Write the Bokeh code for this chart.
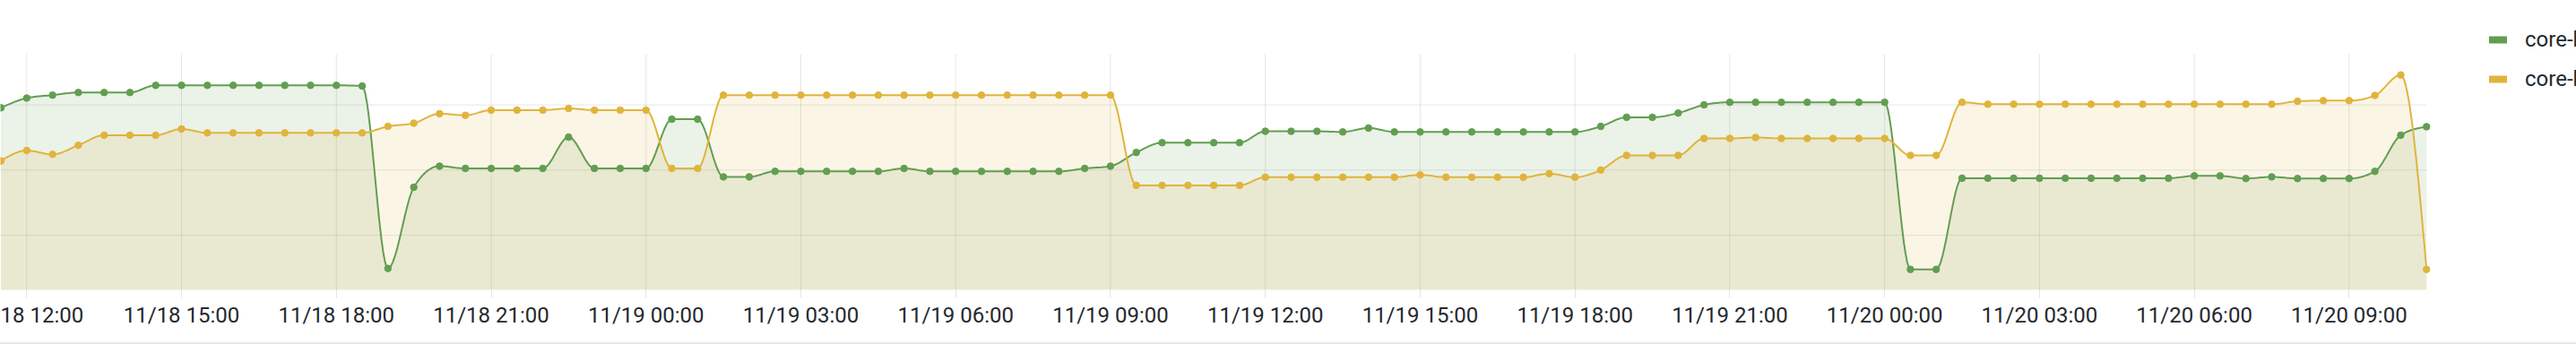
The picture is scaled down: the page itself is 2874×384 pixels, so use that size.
import numpy as np
import pandas as pd
from bokeh.plotting import figure
from bokeh.layouts import column
from bokeh.models import (Range1d, FixedTicker, DatetimeTickFormatter,
                          Legend, LegendItem, Div)
from bokeh.embed import file_html
from bokeh.resources import INLINE

# ---------------- data ----------------
series_names = ["core-host-1", "core-host-2"]
series_colors = ["#629E51", "#E0B43C"]
start_time = "2024-11-18 11:30"
step_minutes = 30

green_values = [
    59.1, 62.1, 63.0, 63.8, 63.8, 63.8, 66.0, 66.0, 66.0, 66.0,
    66.0, 66.0, 66.0, 66.0, 65.8, 9.8, 34.7, 41.2, 40.5, 40.5,
    40.5, 40.5, 50.1, 40.5, 40.5, 40.5, 55.6, 55.6, 37.9, 37.9,
    39.6, 39.6, 39.6, 39.6, 39.6, 40.5, 39.6, 39.6, 39.6, 39.6,
    39.6, 39.6, 40.5, 41.2, 45.4, 48.4, 48.4, 48.4, 48.4, 51.9,
    51.9, 51.9, 51.7, 52.9, 51.7, 51.7, 51.7, 51.7, 51.7, 51.7,
    51.7, 51.7, 53.4, 56.2, 56.2, 57.5, 60.0, 60.8, 60.8, 60.8,
    60.8, 60.8, 60.8, 60.8, 9.5, 9.5, 37.5, 37.5, 37.5, 37.5,
    37.5, 37.5, 37.5, 37.5, 37.5, 38.2, 38.2, 37.4, 37.9, 37.4,
    37.4, 37.4, 39.6, 50.7, 53.3,
]
yellow_values = [
    42.8, 46.0, 44.8, 47.6, 50.7, 50.7, 50.7, 52.6, 51.4, 51.4,
    51.4, 51.4, 51.4, 51.4, 51.4, 53.4, 54.4, 57.3, 56.8, 58.4,
    58.4, 58.4, 58.9, 58.4, 58.4, 58.4, 40.5, 40.5, 63.0, 63.0,
    63.0, 63.0, 63.0, 63.0, 63.0, 63.0, 63.0, 63.0, 63.0, 63.0,
    63.0, 63.0, 63.0, 63.0, 35.3, 35.3, 35.3, 35.3, 35.3, 37.8,
    37.8, 37.8, 37.8, 37.8, 37.8, 38.5, 37.8, 37.8, 37.8, 37.8,
    38.9, 37.8, 40.0, 44.5, 44.5, 44.5, 49.7, 49.7, 50.0, 49.7,
    49.7, 49.7, 49.7, 49.7, 44.5, 44.5, 60.8, 60.2, 60.2, 60.2,
    60.2, 60.2, 60.2, 60.2, 60.2, 60.2, 60.2, 60.2, 60.2, 61.1,
    61.3, 61.3, 62.9, 69.2, 9.5,
]
tick_labels = [
    "11/18 12:00", "11/18 15:00", "11/18 18:00", "11/18 21:00",
    "11/19 00:00", "11/19 03:00", "11/19 06:00", "11/19 09:00",
    "11/19 12:00", "11/19 15:00", "11/19 18:00", "11/19 21:00",
    "11/20 00:00", "11/20 03:00", "11/20 06:00", "11/20 09:00",
]
# the first label is cut by the left edge in the original: only this part shows
first_label_visible = "18 12:00"
grid_values = [20, 40, 60]
y_min, y_top = 3.24, 75.58      # bottom / top of the plotted area
y_canvas_top = 92.06            # value at the very top of the canvas (legend space)

# ---------------- helpers ----------------
MS_H = 3600 * 1000.0


def to_ms(ts):
    return float(pd.Timestamp(ts).value // 10**6)


t_first = to_ms(start_time)
times = [t_first + i * step_minutes * 60000.0 for i in range(len(green_values))]
tick_ms = [to_ms(pd.to_datetime("2024/" + s, format="%Y/%m/%d %H:%M")) for s in tick_labels]


def monotone_x(xs, ys, n=16):
    """d3 curveMonotoneX rendering of the series (smooth line)."""
    xs = np.asarray(xs, float)
    ys = np.asarray(ys, float)
    h = np.diff(xs)
    s = np.diff(ys) / h
    m = np.zeros(len(xs))
    for i in range(1, len(xs) - 1):
        h0, h1 = h[i - 1], h[i]
        s0, s1 = s[i - 1], s[i]
        pp = (s0 * h1 + s1 * h0) / (h0 + h1)
        m[i] = (np.sign(s0) + np.sign(s1)) * min(abs(s0), abs(s1), 0.5 * abs(pp))
    m[0] = (3 * s[0] - m[1]) / 2
    m[-1] = (3 * s[-1] - m[-2]) / 2
    out_x, out_y = [], []
    t = np.linspace(0, 1, n, endpoint=False)
    h00 = 2 * t**3 - 3 * t**2 + 1
    h10 = t**3 - 2 * t**2 + t
    h01 = -2 * t**3 + 3 * t**2
    h11 = t**3 - t**2
    for i in range(len(xs) - 1):
        dx = h[i]
        out_x.extend(xs[i] + t * dx)
        out_y.extend(h00 * ys[i] + h10 * dx * m[i] + h01 * ys[i + 1] + h11 * dx * m[i + 1])
    out_x.append(xs[-1])
    out_y.append(ys[-1])
    return out_x, out_y


# ---------------- figure ----------------
t0 = tick_ms[0]
x_start = t0 - 0.509 * MS_H
x_end = t0 + 49.405 * MS_H

p = figure(width=2874, height=382, x_axis_type="datetime", y_axis_location=None,
           x_range=Range1d(x_start, x_end), y_range=Range1d(y_min, y_canvas_top),
           output_backend="svg", toolbar_location=None, title=None,
           min_border_left=0, min_border_right=0, min_border_top=0,
           min_border_bottom=59)
p.outline_line_color = None
p.background_fill_color = "white"
p.border_fill_color = "white"

# grid (drawn as segments so that it stays inside the plotted area)
p.xgrid.grid_line_color = None
p.ygrid.grid_line_color = None
p.segment(x0=tick_ms, y0=[y_min] * len(tick_ms), x1=tick_ms, y1=[y_top] * len(tick_ms),
          line_color="black", line_alpha=0.1, line_width=1)
p.segment(x0=[x_start] * len(grid_values), y0=grid_values,
          x1=[times[-1]] * len(grid_values), y1=grid_values,
          line_color="black", line_alpha=0.1, line_width=1)

series = [green_values, yellow_values]
curves = [monotone_x(times, vals) for vals in series]

for (cx, cy), col in zip(curves, series_colors):
    p.varea(x=cx, y1=[y_min - 10] * len(cx), y2=cy, fill_color=col, fill_alpha=0.13)
for (cx, cy), col in zip(curves, series_colors):
    p.line(cx, cy, line_color=col, line_width=2)
for vals, col in zip(series, series_colors):
    p.scatter(times, vals, size=7.5, color=col)

# x axis
ax = p.xaxis[0]
ax.ticker = FixedTicker(ticks=tick_ms)
fmt = "%m/%d %H:%M"
ax.formatter = DatetimeTickFormatter(
    microseconds=fmt, milliseconds=fmt, seconds=fmt, minsec=fmt, minutes=fmt,
    hourmin=fmt, hours=fmt, days=fmt, months=fmt, years=fmt,
    strip_leading_zeros=False)
ax.major_label_overrides = {tick_ms[0]: first_label_visible}
ax.axis_line_color = None
ax.major_tick_line_color = "black"
ax.major_tick_line_alpha = 0.1
ax.major_tick_in = 0
ax.major_tick_out = 9
ax.minor_tick_line_color = None
ax.major_label_standoff = 5
ax.major_label_text_font = "Roboto"
ax.major_label_text_font_size = "24px"
ax.major_label_text_color = "#24292E"

# legend
dummies = [p.line(x=[times[0], times[1]], y=[np.nan, np.nan], line_color=c,
                  line_width=8, line_cap="round")
           for c in series_colors]
legend = Legend(items=[LegendItem(label=n, renderers=[r]) for n, r in zip(series_names, dummies)],
                location=(2777, 218), orientation="vertical",
                glyph_width=20, glyph_height=34, label_height=34, spacing=10,
                padding=0, margin=0, label_standoff=20,
                border_line_color=None, background_fill_alpha=0,
                label_text_font="Roboto", label_text_font_size="24px",
                label_text_color="#24292E")
p.add_layout(legend, "center")

# thin grey rule under the panel
rule = Div(text="", width=2874, height=2, margin=0,
           styles={"background-color": "#E4E6E9"})

layout = column(p, rule, spacing=0)
open("out.html", "w").write(file_html(layout, INLINE))
